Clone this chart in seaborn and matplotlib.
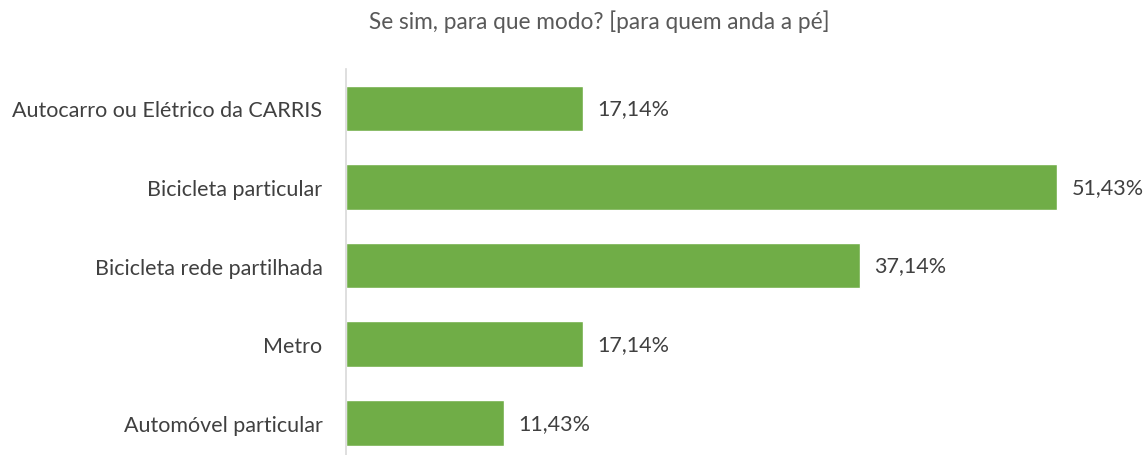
import matplotlib
matplotlib.use("Agg")
import matplotlib.pyplot as plt
import seaborn as sns
import pandas as pd

categories = [
    "Autocarro ou Elétrico da CARRIS",
    "Bicicleta particular",
    "Bicicleta rede partilhada",
    "Metro",
    "Automóvel particular",
]
values = [17.14, 51.43, 37.14, 17.14, 11.43]
title = "Se sim, para que modo? [para quem anda a pé]"

df = pd.DataFrame({"modo": categories, "pct": values})

sns.set_theme(style="white")
plt.rcParams["font.family"] = ["Lato", "DejaVu Sans"]

W, H = 1147, 456
fig = plt.figure(figsize=(W / 100, H / 100), dpi=100)
left, right, top, bottom = 346, 1100, 70, 456
ax = fig.add_axes([left / W, 1 - bottom / H, (right - left) / W, (bottom - top) / H])

sns.barplot(data=df, x="pct", y="modo", orient="h", color="#70AD47",
            saturation=1, width=0.58, ax=ax)

px_per_unit = 13.83
ax.set_xlim(0, (right - left) / px_per_unit)
ax.set_ylim(4.41, -0.5)

for i, v in enumerate(values):
    ax.text(v + 1.05, i, f"{v:.2f}%".replace(".", ","), va="center", ha="left",
            fontsize=15.5, color="#404040")

ax.set_xlabel("")
ax.set_ylabel("")
ax.set_xticks([])
ax.tick_params(axis="y", length=0, pad=17, labelsize=15.5, labelcolor="#404040")
for s in ["top", "right", "bottom"]:
    ax.spines[s].set_visible(False)
ax.spines["left"].set_color("#D9D9D9")
ax.spines["left"].set_linewidth(1.2)

fig.text(599 / W, 1 - 22 / H, title, ha="center", va="center",
         fontsize=16.3, color="#595959")

fig.savefig("out.png", dpi=100)
